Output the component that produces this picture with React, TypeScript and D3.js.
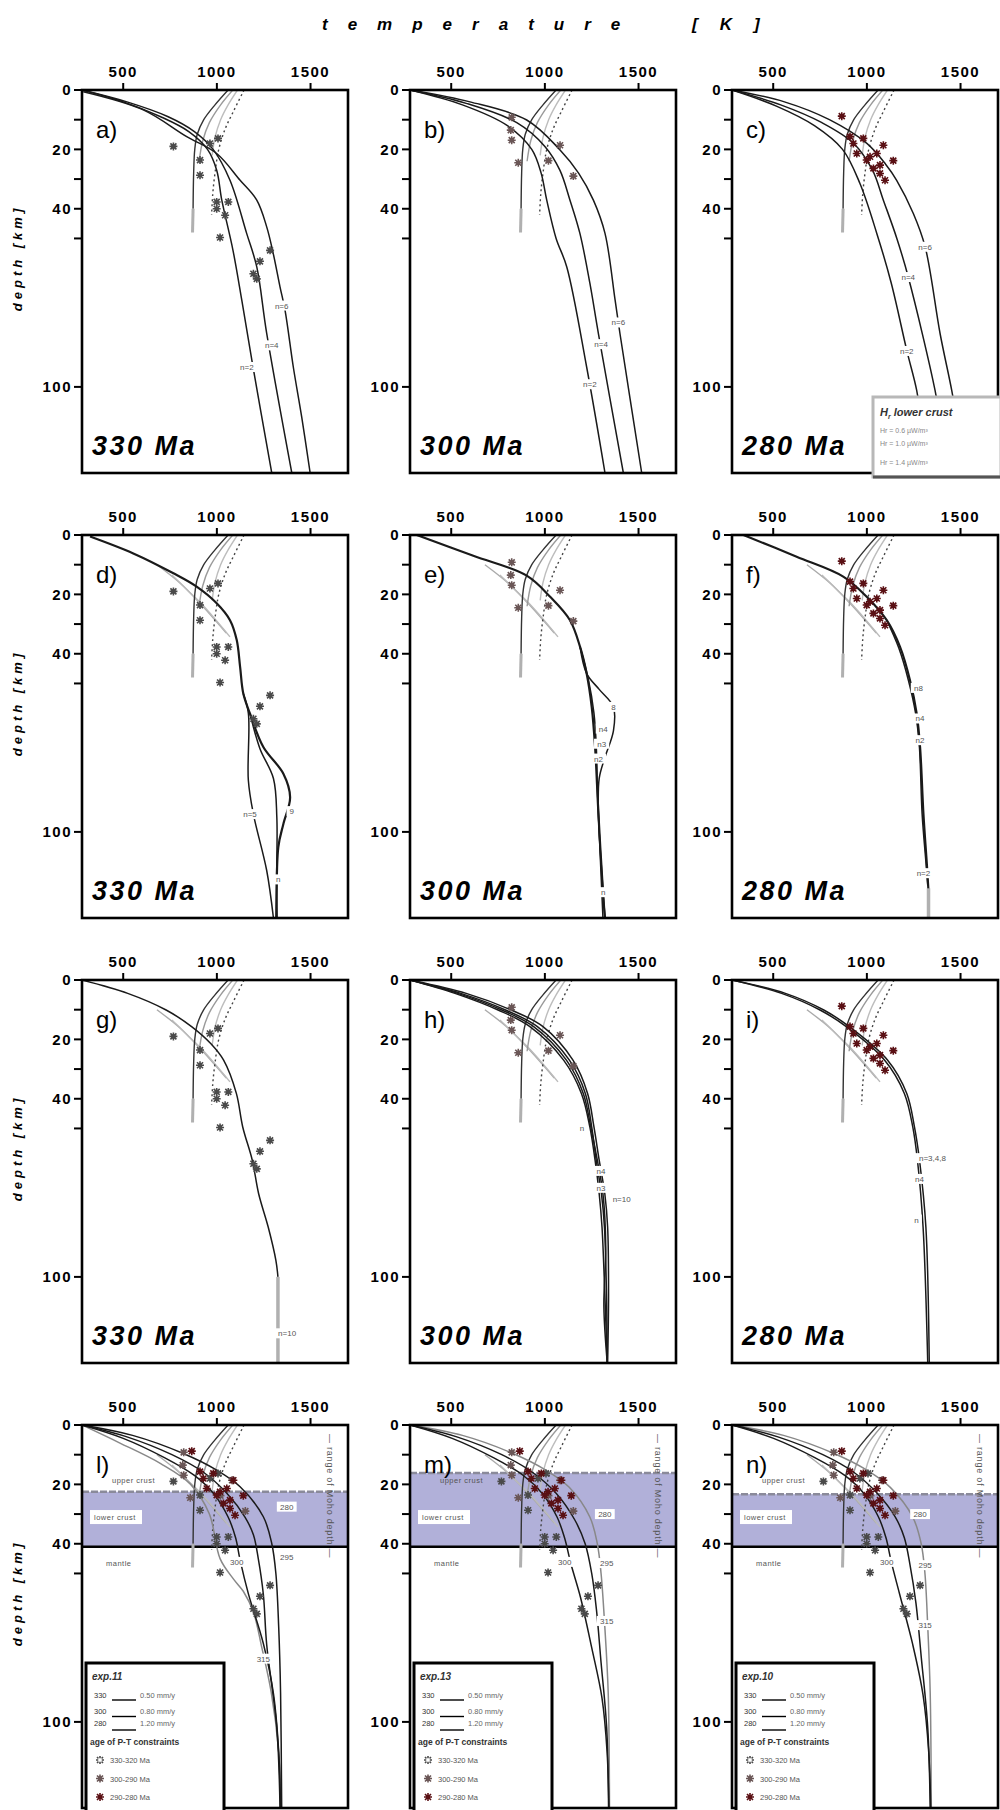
import React from "react";
import * as d3 from "d3";

type Pt = [number, number]; // [temperature K, depth km]
type Lbl = [number, number, string];

const W = 266;
const H = 383;
const colX = [82, 410, 732];
const rowY = [90, 535, 980, 1425];
const tempDomain: [number, number] = [280, 1700];
const depthDomain: [number, number] = [0, 129];
const tempTicks = [500, 1000, 1500];
const depthTicks = [0, 10, 20, 30, 40, 50, 100];
const depthTickLabels = [0, 20, 40, 100];
const panelLetters = ["a", "b", "c", "d", "e", "f", "g", "h", "i", "l", "m", "n"];
const ageLabels = ["330 Ma", "300 Ma", "280 Ma"];

// reference curves shared by all panels
const refSolidUpper: Pt[] = [[1060, 0], [990, 5], [930, 10], [895, 15], [882, 20], [876, 28], [873, 40]];
const refSolidLower: Pt[] = [[873, 40], [870, 48]];
const refGreyA: Pt[] = [[1085, 0], [1020, 5], [960, 11], [925, 17], [905, 24]];
const refGreyB: Pt[] = [[1110, 0], [1060, 5], [1020, 10], [990, 16], [975, 22]];
const refDotted: Pt[] = [[1145, 0], [1090, 7], [1045, 13], [1010, 20], [990, 28], [978, 35], [972, 42]];
const greyDiag1: Pt[] = [[680, 10], [800, 16], [910, 23], [1050, 33]];
const greyDiag2: Pt[] = [[760, 13.5], [850, 19], [930, 24], [1070, 34.3]];

// P-T constraints
const pts330: Pt[] = [[768, 19], [963, 18], [910, 23.6], [910, 28.7], [999, 37.7], [999, 40], [1061, 37.7], [1044, 42.2], [1017, 49.7], [1284, 54], [1230, 57.7], [1195, 61.9], [1213, 63.6], [1006, 16.3]];
const pts300: Pt[] = [[823, 9.2], [823, 16.9], [1081, 18.6], [858, 24.5], [1019, 23.8], [1152, 29], [818, 13.5]];
const pts280: Pt[] = [[866, 8.8], [910, 15.7], [981, 16.3], [1088, 18.6], [946, 21.4], [1017, 22.5], [1141, 23.8], [1070, 25.3], [1035, 26.4], [1070, 28.1], [1097, 30.4], [999, 23.6], [928, 18], [1053, 21.4]];

// row 1 geotherms
const geoA1: Pt[] = [[280, 0], [500, 4], [700, 9], [850, 14], [950, 20], [999, 27], [1026, 37], [1086, 54], [1133, 70.8], [1193, 93.3], [1293, 129]];
const geoA2: Pt[] = [[280, 0], [520, 4], [740, 9], [880, 14], [980, 20], [1070, 30.4], [1159, 48.3], [1213, 59.6], [1266, 82], [1400, 129]];
const geoA3: Pt[] = [[287, 0.6], [607, 6.7], [839, 15.7], [999, 21.4], [1124, 30.4], [1213, 37.1], [1266, 46.1], [1301, 55.1], [1337, 66.3], [1364, 74.2], [1408, 93.3], [1453, 110.2], [1498, 129]];
const geoB1: Pt[] = [[280, 0], [560, 5], [800, 12], [930, 20], [980, 28], [1010, 37.1], [1060, 50], [1117, 59.6], [1223, 93.3], [1321, 129]];
const geoB2: Pt[] = [[280, 0], [580, 4.5], [850, 11], [1000, 19], [1080, 27], [1134, 37.1], [1187, 48.3], [1240, 65], [1286, 82.1], [1419, 129]];
const geoB3: Pt[] = [[280, 0], [600, 4], [903, 10.1], [1081, 20.2], [1180, 28], [1259, 37.1], [1321, 48.3], [1375, 70.8], [1401, 82.1], [1517, 129]];
const geoC1: Pt[] = [[280, 0], [520, 5.5], [720, 12], [870, 20], [963, 31.5], [1053, 48.3], [1130, 65], [1213, 87.7], [1266, 101.2], [1290, 112]];
const geoC2: Pt[] = [[280, 0], [540, 5], [760, 11], [930, 18], [1030, 27], [1088, 37.1], [1160, 50], [1221, 63], [1364, 101.2], [1392, 112]];
const geoC3: Pt[] = [[280, 0], [560, 4], [800, 10], [1000, 18], [1100, 25], [1159, 30.4], [1248, 41.6], [1311, 52.8], [1391, 82.1], [1453, 101.2], [1482, 112]];
const labelsA: Lbl[] = [[1346, 72.6, "n=6"], [1293, 86, "n=4"], [1160, 93.3, "n=2"]];
const labelsB: Lbl[] = [[1392, 78.3, "n=6"], [1300, 85.6, "n=4"], [1240, 99.1, "n=2"]];
const labelsC: Lbl[] = [[1311, 52.8, "n=6"], [1221, 63, "n=4"], [1213, 87.9, "n=2"]];

// row 2 geotherms
const geoD1: Pt[] = [[323, 0.5], [554, 6.2], [768, 12.9], [892, 17.4], [999, 23], [1070, 28.7], [1106, 35.4], [1124, 44.4], [1141, 53.4], [1177, 60.2], [1248, 71.4], [1355, 80.4], [1391, 88.3], [1355, 97.3], [1328, 105.1], [1320, 129]];
const geoD2: Pt[] = [[1141, 53.4], [1168, 60], [1168, 82.6], [1195, 94], [1266, 113], [1302, 129]];
const geoD3: Pt[] = [[1177, 60.2], [1230, 72], [1302, 82], [1320, 95], [1320, 110], [1315, 129]];
const geoE1: Pt[] = [[316, 0], [618, 7], [903, 13.7], [1028, 20.8], [1134, 28.7], [1188, 37.7], [1223, 46.7], [1250, 57.9], [1268, 71.4], [1286, 94], [1312, 122], [1321, 129]];
const geoE2: Pt[] = [[1188, 37.7], [1223, 46.7], [1290, 52], [1366, 57.9], [1366, 66], [1320, 75], [1290, 82], [1286, 94], [1300, 110], [1321, 129]];
const geoE3: Pt[] = [[1188, 37.7], [1230, 48], [1262, 60], [1275, 72], [1280, 85], [1290, 100], [1310, 129]];
const geoF1: Pt[] = [[341, 0], [625, 7.3], [874, 14], [999, 20.8], [1106, 28.7], [1177, 37.7], [1230, 48.9], [1266, 60.2], [1284, 71.4], [1302, 94], [1320, 110.7], [1329, 120]];
const geoF2: Pt[] = [[1106, 28.7], [1170, 38], [1222, 49], [1260, 60], [1280, 71], [1295, 94], [1315, 110], [1325, 118]];
const greyTailF: Pt[] = [[1329, 119], [1329, 129]];
const labelsD: Lbl[] = [[1177, 94, "n=5"], [1400, 93, "9"], [1328, 116, "n"]];
const labelsE: Lbl[] = [[1366, 57.9, "8"], [1312, 65.2, "n4"], [1303, 70.3, "n3"], [1286, 75.3, "n2"], [1312, 120.3, "n"]];
const labelsF: Lbl[] = [[1275, 51.5, "n8"], [1284, 61.8, "n4"], [1284, 69.1, "n2"], [1302, 113.9, "n=2"]];

// row 3 geotherms
const geoG1: Pt[] = [[280, 0], [524, 4.5], [729, 10.1], [865, 15.7], [967, 21.4], [1036, 27], [1104, 38.2], [1138, 49.5], [1189, 60.7], [1223, 72], [1274, 83.2], [1315, 94.4], [1326, 100]];
const greyTailG: Pt[] = [[1326, 100], [1326, 129]];
const geoH1: Pt[] = [[280, 0], [551, 4.5], [790, 10.1], [960, 15.7], [1131, 27], [1216, 38.2], [1250, 49.5], [1274, 60.7], [1302, 72], [1318, 83.2], [1329, 105.7], [1333, 129]];
const geoH2: Pt[] = [[280, 0], [520, 4.5], [750, 10.1], [920, 15.7], [1100, 27], [1195, 38.2], [1240, 49.5], [1268, 60.7], [1290, 72], [1305, 83.2], [1320, 105.7], [1333, 129]];
const geoH3: Pt[] = [[280, 0], [580, 4.5], [820, 10.1], [990, 15.7], [1150, 27], [1228, 38.2], [1262, 49.5], [1290, 60.7], [1320, 72], [1335, 83.2], [1340, 105.7], [1335, 129]];
const geoH4: Pt[] = [[280, 0], [535, 4.5], [770, 10.1], [940, 15.7], [1115, 27], [1205, 38.2], [1245, 49.5], [1280, 60.7], [1310, 72], [1325, 90], [1315, 110], [1333, 129]];
const geoI1: Pt[] = [[280, 0], [565, 4.5], [770, 10.1], [906, 15.7], [1111, 27], [1213, 38.2], [1254, 49.5], [1281, 60.7], [1315, 83.2], [1333, 129]];
const geoI2: Pt[] = [[280, 0], [545, 4.5], [750, 10.1], [890, 15.7], [1095, 27], [1200, 38.2], [1245, 49.5], [1270, 60.7], [1300, 83.2], [1325, 129]];
const labelsG: Lbl[] = [[1375, 119, "n=10"]];
const labelsH: Lbl[] = [[1198, 49.7, "n"], [1300, 64.3, "n4"], [1300, 70, "n3"], [1410, 73.6, "n=10"]];
const labelsI: Lbl[] = [[1350, 60, "n=3,4,8"], [1281, 67, "n4"], [1265, 80.7, "n"]];

// row 4 geotherms
const geoL1: Pt[] = [[280, 0], [550, 3.5], [821, 9.6], [999, 15.2], [1124, 20.8], [1248, 30.9], [1293, 39.9], [1315, 50], [1330, 68], [1340, 90], [1346, 129]];
const geoL2: Pt[] = [[280, 0], [520, 4], [760, 10], [930, 16], [1053, 23], [1150, 31], [1195, 37], [1221, 45], [1248, 57], [1266, 74], [1320, 102], [1337, 129]];
const geoL3: Pt[] = [[280, 0], [500, 4.5], [720, 11], [880, 17], [981, 23], [1060, 31], [1100, 38], [1124, 45.5], [1168, 56.8], [1248, 73.6], [1302, 90.5], [1330, 110], [1340, 129]];
const geoL4: Pt[] = [[280, 0], [480, 6], [700, 13], [860, 20], [960, 30], [1017, 45], [1090, 52], [1141, 56], [1195, 63], [1240, 75], [1290, 90], [1330, 110], [1343, 129]];
const geoM1: Pt[] = [[280, 0], [560, 3.5], [830, 9.6], [1005, 15.2], [1130, 21], [1240, 31], [1280, 40], [1300, 50], [1320, 68], [1338, 90], [1345, 129]];
const geoM2: Pt[] = [[280, 0], [530, 4], [770, 10], [935, 16], [1060, 23], [1160, 32], [1215, 40], [1250, 50], [1275, 62], [1300, 80], [1330, 102], [1340, 129]];
const geoM3: Pt[] = [[280, 0], [505, 4.5], [725, 11], [885, 17], [985, 23], [1065, 31], [1105, 38], [1140, 47], [1190, 58], [1250, 75], [1305, 92], [1332, 110], [1342, 129]];
const geoN1: Pt[] = [[280, 0], [555, 3.5], [825, 9.6], [1000, 15.2], [1125, 21], [1245, 31], [1290, 40], [1310, 50], [1325, 68], [1338, 90], [1344, 129]];
const geoN2: Pt[] = [[280, 0], [525, 4], [765, 10], [932, 16], [1055, 23], [1152, 31], [1200, 38], [1230, 47], [1262, 60], [1290, 78], [1325, 102], [1338, 129]];
const geoN3: Pt[] = [[280, 0], [502, 4.5], [722, 11], [882, 17], [983, 23], [1062, 31], [1102, 38], [1130, 46], [1175, 57], [1245, 74], [1300, 91], [1330, 110], [1341, 129]];
const labelsL: Lbl[] = [[1373, 27.5, "280"], [1106, 46.1, "300"], [1373, 44.4, "295"], [1248, 78.7, "315"]];
const labelsM: Lbl[] = [[1320, 30, "280"], [1106, 46.1, "300"], [1330, 46.5, "295"], [1330, 66, "315"]];
const labelsN: Lbl[] = [[1284, 30, "280"], [1106, 46.1, "300"], [1311, 47.2, "295"], [1311, 67.4, "315"]];
const crustTop = [22.5, 16.2, 23.3];
const crustBottom = 41;
const expNames = ["exp.11", "exp.13", "exp.10"];
const legendAges = ["330", "300", "280"];
const legendRates = ["0.50 mm/y", "0.80 mm/y", "1.20 mm/y"];
const legendConstraintAges = ["330-320 Ma", "300-290 Ma", "290-280 Ma"];
const heatLegend = ["Hr = 0.6 µW/m³", "Hr = 1.0 µW/m³", "Hr = 1.4 µW/m³"];

const font = "'Liberation Sans', Arial, Helvetica, sans-serif";
const markerColors = ["#4a4a4a", "#6a5656", "#5a1014"];

const geoSets: Pt[][][] = [
  [geoA1, geoA2, geoA3], [geoB1, geoB2, geoB3], [geoC1, geoC2, geoC3],
  [geoD1, geoD2, geoD3], [geoE1, geoE2, geoE3], [geoF1, geoF2],
  [geoG1], [geoH1, geoH2, geoH3, geoH4], [geoI1, geoI2],
  [geoL4, geoL1, geoL2, geoL3], [geoM1, geoM2, geoM3], [geoN1, geoN2, geoN3],
];
const greyTails: Pt[][][] = [[], [], [], [], [], [greyTailF], [greyTailG], [], [], [], [], []];
const labelSets: Lbl[][] = [labelsA, labelsB, labelsC, labelsD, labelsE, labelsF, labelsG, labelsH, labelsI, labelsL, labelsM, labelsN];
const pointSets = [pts330, pts300, pts280];

const x = d3.scaleLinear().domain(tempDomain).range([0, W]);
const y = d3.scaleLinear().domain(depthDomain).range([0, H]);
const line = d3.line<Pt>().x((d) => x(d[0])).y((d) => y(d[1])).curve(d3.curveCatmullRom.alpha(0.5));

function Marker({ p, kind }: { p: Pt; kind: number }) {
  const c = markerColors[kind];
  return (
    <g transform={`translate(${x(p[0])},${y(p[1])})`}>
      <path d="M-4,0H4M0,-4V4M-3,-3L3,3M-3,3L3,-3" stroke={c} strokeWidth={1.6} />
      <rect x={-1.8} y={-1.8} width={3.6} height={3.6} fill={c} />
    </g>
  );
}

function CurveLabel({ l }: { l: Lbl }) {
  const w = l[2].length * 4.6 + 6;
  return (
    <g transform={`translate(${x(l[0])},${y(l[1])})`}>
      <rect x={-w / 2} y={-5} width={w} height={10} fill="#fff" />
      <text x={0} y={3} textAnchor="middle" fontSize={8} fontFamily={font} fill="#555">{l[2]}</text>
    </g>
  );
}

function Panel({ idx }: { idx: number }) {
  const row = Math.floor(idx / 3);
  const col = idx % 3;
  const left = colX[col];
  const top = rowY[row];
  const clipId = `clip-${idx}`;
  const kinds = row === 3 ? [0, 1, 2] : [col];
  return (
    <g transform={`translate(${left},${top})`}>
      <defs>
        <clipPath id={clipId}>
          <rect x={0} y={0} width={W} height={H} />
        </clipPath>
      </defs>
      {row === 3 && (
        <g>
          <rect x={0} y={y(crustTop[col])} width={W} height={y(crustBottom) - y(crustTop[col])} fill="#b1b0d9" />
          <line x1={0} x2={W} y1={y(crustTop[col])} y2={y(crustTop[col])} stroke="#8a8a9a" strokeWidth={2.5} strokeDasharray="7,2" />
          <line x1={0} x2={W} y1={y(crustBottom)} y2={y(crustBottom)} stroke="#000" strokeWidth={2.5} />
        </g>
      )}
      <g clipPath={`url(#${clipId})`} fill="none">
        {row >= 1 && <path d={line(greyDiag1) || ""} stroke="#aaa" strokeWidth={1.4} />}
        {row >= 1 && <path d={line(greyDiag2) || ""} stroke="#bbb" strokeWidth={1.4} />}
        <path d={line(refGreyB) || ""} stroke="#bdbdbd" strokeWidth={1.4} />
        <path d={line(refGreyA) || ""} stroke="#9a9a9a" strokeWidth={1.4} />
        <path d={line(refSolidUpper) || ""} stroke="#333" strokeWidth={1.4} />
        <path d={line(refSolidLower) || ""} stroke="#b0b0b0" strokeWidth={3} />
        <path d={line(refDotted) || ""} stroke="#444" strokeWidth={1.4} strokeDasharray="2,3" />
        {geoSets[idx].map((g, i) => (
          <path key={i} d={line(g) || ""} stroke={row === 3 && i === 0 ? "#888" : "#1a1a1a"} strokeWidth={row === 1 && i === 0 ? 2.2 : 1.5} />
        ))}
        {greyTails[idx].map((g, i) => (
          <path key={i} d={line(g) || ""} stroke="#b0b0b0" strokeWidth={3.5} />
        ))}
        {kinds.map((k) => pointSets[k].map((p, i) => <Marker key={`${k}-${i}`} p={p} kind={k} />))}
      </g>
      {labelSets[idx].map((l, i) => <CurveLabel key={i} l={l} />)}
      {row === 3 && (
        <g fontFamily={font} fill="#555">
          <text x={30} y={y(19.5)} fontSize={7.5} letterSpacing={0.5}>upper crust</text>
          <rect x={8} y={y(31) - 7} width={52} height={14} fill="#fff" />
          <text x={12} y={y(31) + 3} fontSize={7.5} letterSpacing={0.5}>lower crust</text>
          <text x={24} y={y(47.5)} fontSize={7.5} letterSpacing={0.5}>mantle</text>
          <text transform={`translate(${W - 21},${y(3)}) rotate(90)`} fontSize={9} fill="#555" letterSpacing={0.8}>
            — range of Moho depth —
          </text>
        </g>
      )}
      <rect x={0} y={0} width={W} height={H} fill="none" stroke="#000" strokeWidth={2.6} />
      {tempTicks.map((t) => (
        <g key={t}>
          <line x1={x(t)} x2={x(t)} y1={0} y2={-7} stroke="#000" strokeWidth={2} />
          <text x={x(t)} y={-13} textAnchor="middle" fontFamily={font} fontWeight="bold" fontSize={15} letterSpacing={1.5}>{t}</text>
        </g>
      ))}
      {depthTicks.map((d) => (
        <line key={d} x1={0} x2={-8} y1={y(d)} y2={y(d)} stroke="#000" strokeWidth={2} />
      ))}
      {depthTickLabels.map((d) => (
        <text key={d} x={-10} y={y(d)} dy="0.36em" textAnchor="end" fontFamily={font} fontWeight="bold" fontSize={15} letterSpacing={1.5}>{d}</text>
      ))}
      <text x={14} y={48} fontFamily={font} fontSize={24}>{panelLetters[idx]})</text>
      <text x={10} y={365} fontFamily={font} fontStyle="italic" fontWeight="bold" fontSize={27} letterSpacing={2.5}>{ageLabels[col]}</text>
      {col === 0 && (
        <text transform={`translate(-60,168) rotate(-90)`} textAnchor="middle" fontFamily={font} fontStyle="italic" fontWeight="bold" fontSize={13} letterSpacing={4}>
          depth [km]
        </text>
      )}
      {idx === 2 && (
        <g fontFamily={font}>
          <rect x={141} y={307} width={128} height={80} fill="#fff" stroke="#b8b8b8" strokeWidth={3} />
          <line x1={141} x2={269} y1={387} y2={387} stroke="#555" strokeWidth={3} />
          <text x={148} y={326} fontSize={11} fontWeight="bold" fontStyle="italic" fill="#333">
            H<tspan fontSize={7} dy={3}>r</tspan><tspan dy={-3}> lower crust</tspan>
          </text>
          {heatLegend.map((s, i) => (
            <text key={s} x={148} y={343 + i * 13 + (i === 2 ? 6 : 0)} fontSize={7} fill="#888">{s}</text>
          ))}
        </g>
      )}
      {row === 3 && (
        <g fontFamily={font}>
          <rect x={4} y={238} width={138} height={150} fill="#fff" stroke="#000" strokeWidth={3} />
          <text x={10} y={255} fontSize={10} fontWeight="bold" fontStyle="italic" fill="#333">{expNames[col]}</text>
          {legendAges.map((a, i) => (
            <g key={a} transform={`translate(12,${273 + i * (i === 2 ? 14 : 15.5)})`}>
              <text x={0} y={0} fontSize={7.5} fill="#333">{a}</text>
              <line x1={18} x2={42} y1={2 + i} y2={2 + i} stroke="#000" strokeWidth={1.4} />
              <text x={46} y={0} fontSize={7.5} fill="#666">{legendRates[i]}</text>
            </g>
          ))}
          <text x={8} y={320} fontSize={8.5} fontWeight="bold" fill="#333">age of P-T constraints</text>
          {legendConstraintAges.map((a, i) => (
            <g key={a} transform={`translate(18,${335 + i * 18.5})`}>
              <path d="M-4,0H4M0,-4V4M-3,-3L3,3M-3,3L3,-3" stroke={markerColors[i]} strokeWidth={1.6} />
              <rect x={-1.8} y={-1.8} width={3.6} height={3.6} fill={i === 0 ? "#fff" : markerColors[i]} />
              <text x={10} y={3} fontSize={7.5} fill="#555">{a}</text>
            </g>
          ))}
        </g>
      )}
    </g>
  );
}

export default function App() {
  return (
    <svg width={1000} height={1810} style={{ position: "absolute", left: 0, top: 0, background: "#fff" }}>
      <rect x={0} y={0} width={1000} height={1810} fill="#fff" />
      <text x={322} y={30} fontFamily={font} fontStyle="italic" fontWeight="bold" fontSize={17} letterSpacing={20}>temperature</text>
      <text x={692} y={30} fontFamily={font} fontStyle="italic" fontWeight="bold" fontSize={17} letterSpacing={22}>[K]</text>
      {panelLetters.map((_, i) => <Panel key={i} idx={i} />)}
    </svg>
  );
}
